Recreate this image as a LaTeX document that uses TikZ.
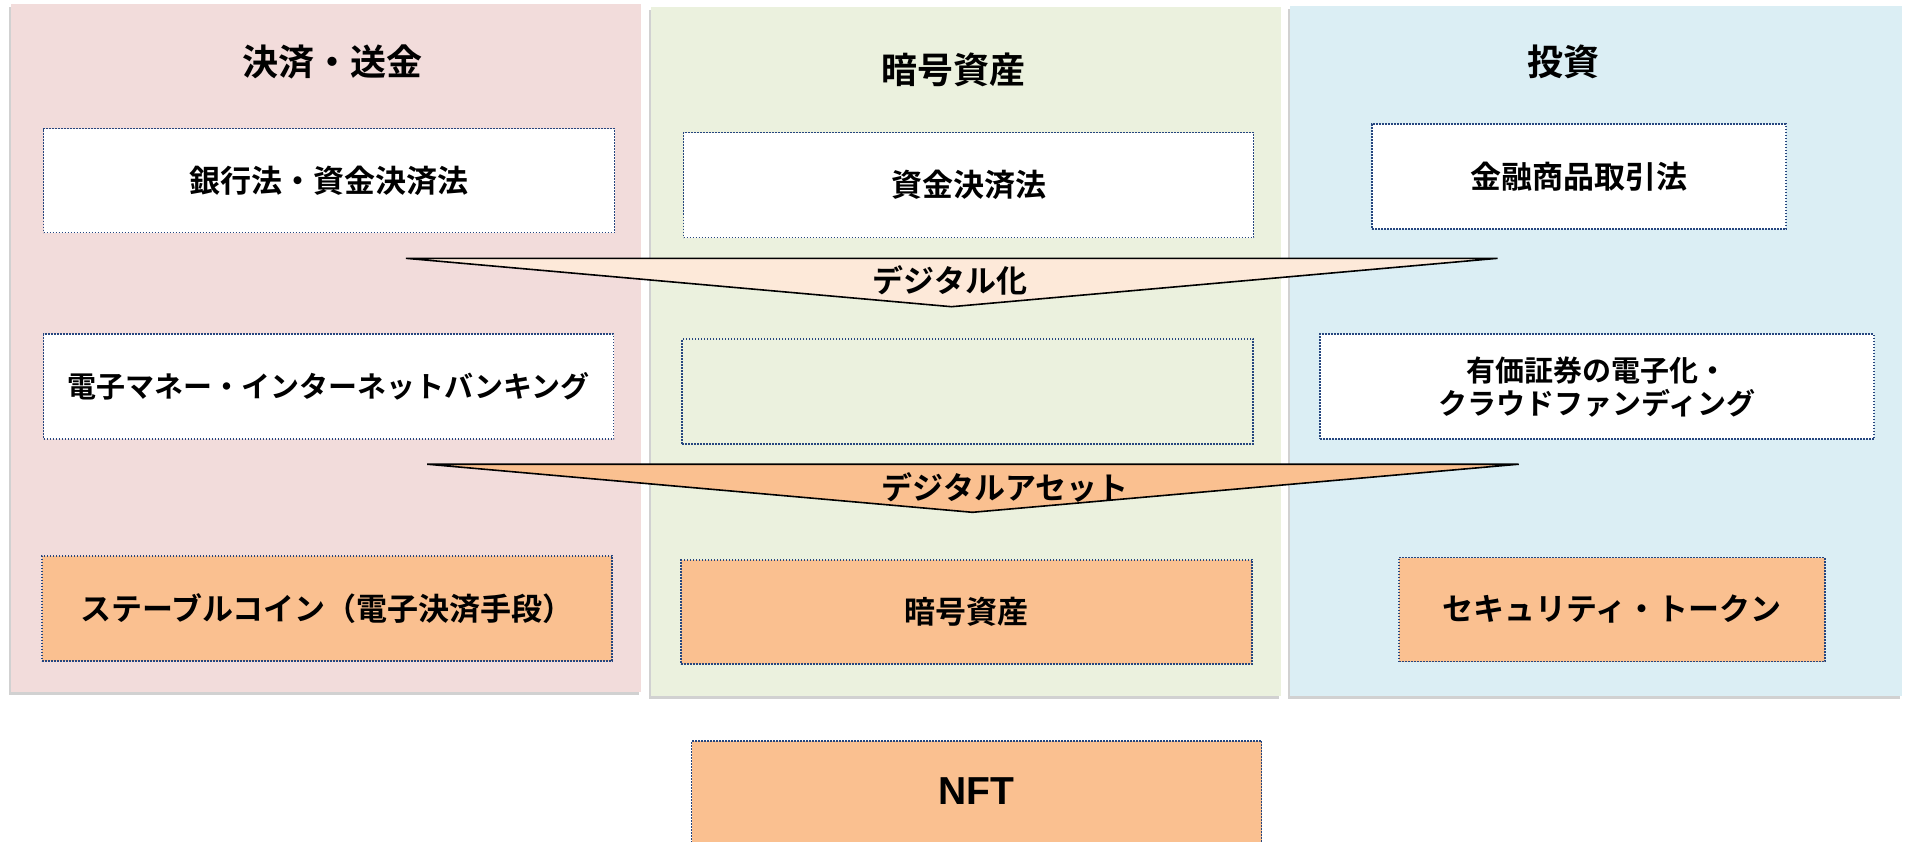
\documentclass[tikz,border=0pt]{standalone}
\usepackage{fontspec}
\newfontfamily\jp{Noto Sans CJK JP}[BoldFont={Noto Sans CJK JP Bold}]
\newfontfamily\lat{Liberation Sans}
\usetikzlibrary{shadows}
\definecolor{colpink}{HTML}{F2DCDB}
\definecolor{colgreen}{HTML}{EBF1DE}
\definecolor{colblue}{HTML}{DBEEF4}
\definecolor{peach}{HTML}{FDE9D9}
\definecolor{orangebox}{HTML}{FAC090}
\definecolor{dotblue}{HTML}{26467F}
\tikzset{
  column/.style={draw=none, inner sep=0pt,
    drop shadow={shadow xshift=-2pt, shadow yshift=-3pt, opacity=0.3, fill=black!60}},
  title/.style={font=\jp\bfseries\fontsize{36}{40}\selectfont, inner sep=0pt},
  lawbox/.style={draw=dotblue, line width=1.6pt, dash pattern=on 1.6pt off 1.4pt,
    inner sep=0pt, align=center, font=\jp\bfseries\fontsize{31}{34}\selectfont},
  whitebox/.style={lawbox, fill=white},
  orbox/.style={lawbox, fill=orangebox},
  chevron/.style={draw=black, line width=1.6pt, line join=miter},
  chevtext/.style={font=\jp\bfseries\fontsize{31}{34}\selectfont, inner sep=0pt}
}
\begin{document}
\begin{tikzpicture}[x=1pt, y=-1pt]
\useasboundingbox (0,0) rectangle (1906,841);
% columns
\node[column, fill=colpink, minimum width=630, minimum height=688] (c1) at (325.5,348) {};
\node[column, fill=colgreen, minimum width=630, minimum height=689] (c2) at (965.5,351.6) {};
\node[column, fill=colblue, minimum width=612, minimum height=690] (c3) at (1596,351) {};
% titles
\node[title] (t1) at (332,62) {決済・送金};
\node[title] (t2) at (953.5,70) {暗号資産};
\node[title] (t3) at (1563.4,62) {投資};
% row 1
\node[whitebox, minimum width=571, minimum height=104] (a1) at (329,180.5) {銀行法・資金決済法};
\node[whitebox, minimum width=570, minimum height=105] (a2) at (968.5,185) {資金決済法};
\node[whitebox, minimum width=414, minimum height=105] (a3) at (1579,176.7) {金融商品取引法};
% arrow 1
\coordinate (d1l) at (406,258.3);
\coordinate (d1r) at (1497.6,258.3);
\coordinate (d1t) at (951.5,306.7);
\draw[chevron, fill=peach] (d1l) -- (d1r) -- (d1t) -- cycle;
\node[chevtext] (d1) at (950,280) {デジタル化};
% row 2
\node[whitebox, minimum width=570, minimum height=105, font=\jp\bfseries\fontsize{29}{32}\selectfont] (b1) at (328.5,386.7) {電子マネー・インターネットバンキング};
\node[lawbox, minimum width=571, minimum height=105] (b2) at (967.6,391.5) {};
\node[whitebox, minimum width=554, minimum height=105, font=\jp\bfseries\fontsize{29}{33}\selectfont] (b3) at (1597,386.7) {有価証券の電子化・\\クラウドファンディング};
% arrow 2
\coordinate (d2l) at (427.2,464.2);
\coordinate (d2r) at (1518.7,464.2);
\coordinate (d2t) at (972.5,512.3);
\draw[chevron, fill=orangebox] (d2l) -- (d2r) -- (d2t) -- cycle;
\node[chevtext] (d2) at (1005,487) {デジタルアセット};
% row 3
\node[orbox, minimum width=570, minimum height=105] (e1) at (327.2,608.3) {ステーブルコイン（電子決済手段）};
\node[orbox, minimum width=571, minimum height=104] (e2) at (966.7,612) {暗号資産};
\node[orbox, minimum width=426, minimum height=104] (e3) at (1612,609.5) {セキュリティ・トークン};
% NFT
\node[orbox, minimum width=570, minimum height=110] (nft) at (976.5,796) {};
\node[font=\lat\bfseries\fontsize{39}{42}\selectfont, inner sep=0pt] (nftt) at (976.7,791) {NFT};
\end{tikzpicture}
\end{document}
